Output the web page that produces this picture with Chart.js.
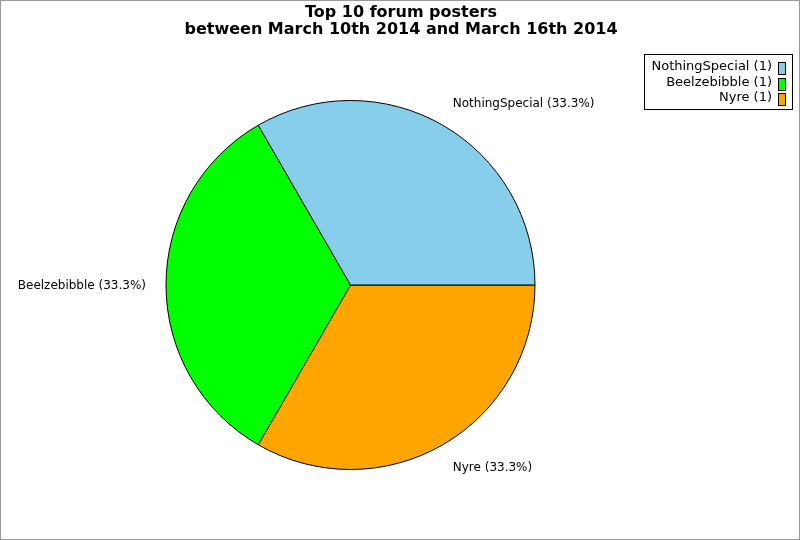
<!DOCTYPE html>
<html>
<head>
<meta charset="utf-8">
<script src="https://cdn.jsdelivr.net/npm/chart.js@4/dist/chart.umd.min.js"></script>
<style>
  html, body { margin: 0; padding: 0; background: #fff; }
  #wrap { width: 800px; height: 540px; }
</style>
</head>
<body>
<div id="wrap"><canvas id="chart" width="800" height="540"></canvas></div>
<script>
const titleLines = ['Top 10 forum posters', 'between March 10th 2014 and March 16th 2014'];
const posters = ['NothingSpecial', 'Beelzebibble', 'Nyre'];
const posts = [1, 1, 1];
const colours = ['#87CEEB', '#00FF00', '#FFA500'];

const total = posts.reduce((a, b) => a + b, 0);

// pie goes clockwise in chart.js, the picture goes the other way -> reverse
const pieLabels = posters.slice().reverse();
const pieData = posts.slice().reverse();
const pieColours = colours.slice().reverse();

const frame = {
  id: 'frame',
  beforeDraw(chart) {
    const ctx = chart.ctx;
    ctx.save();
    ctx.fillStyle = '#fff';
    ctx.fillRect(0, 0, chart.width, chart.height);
    ctx.strokeStyle = '#999';
    ctx.lineWidth = 1;
    ctx.strokeRect(0.5, 0.5, chart.width - 1, chart.height - 1);
    // title
    ctx.fillStyle = '#000';
    ctx.font = 'bold 16px "DejaVu Sans"';
    ctx.textAlign = 'center';
    ctx.textBaseline = 'middle';
    titleLines.forEach((t, i) => ctx.fillText(t, 401, 13 + i * 17));
    ctx.restore();
  }
};

const sliceLabels = {
  id: 'sliceLabels',
  afterDatasetsDraw(chart) {
    const ctx = chart.ctx;
    const arcs = chart.getDatasetMeta(0).data;
    ctx.save();
    ctx.font = '12px "DejaVu Sans"';
    ctx.fillStyle = '#000';
    ctx.textBaseline = 'middle';
    arcs.forEach((arc, i) => {
      const p = arc.getProps(['x', 'y', 'startAngle', 'endAngle', 'outerRadius'], true);
      const a = (p.startAngle + p.endAngle) / 2;
      const x = p.x + Math.cos(a) * (p.outerRadius + 22);
      const y = p.y + Math.sin(a) * (p.outerRadius + 25.5) + 1;
      const pct = (pieData[i] / total * 100).toFixed(1);
      const txt = pieLabels[i] + ' (' + pct + '%)';
      if (Math.cos(a) >= 0) {
        ctx.textAlign = 'left';
        ctx.fillText(txt, x - 1, y);
      } else {
        ctx.textAlign = 'right';
        ctx.fillText(txt, x + 2, y);
      }
    });
    ctx.restore();
  }
};

const boxLegend = {
  id: 'boxLegend',
  afterDraw(chart) {
    const ctx = chart.ctx;
    ctx.save();
    ctx.strokeStyle = '#000';
    ctx.lineWidth = 1;
    ctx.strokeRect(644.5, 54.5, 148, 55);
    ctx.font = '13px "DejaVu Sans"';
    ctx.textAlign = 'right';
    ctx.textBaseline = 'middle';
    posters.forEach((name, i) => {
      const cy = 67 + i * 15.5;
      ctx.fillStyle = '#000';
      ctx.fillText(name + ' (' + posts[i] + ')', 772, cy);
      const by = Math.round(cy - 5) + 0.5;
      ctx.fillStyle = colours[i];
      ctx.fillRect(778.5, by, 7, 12);
      ctx.strokeRect(778.5, by, 7, 12);
    });
    ctx.restore();
  }
};

new Chart(document.getElementById('chart'), {
  type: 'pie',
  data: {
    labels: pieLabels,
    datasets: [{
      data: pieData,
      backgroundColor: pieColours,
      borderColor: '#000',
      borderWidth: 1,
      hoverOffset: 0,
      offset: 0
    }]
  },
  options: {
    responsive: false,
    animation: false,
    rotation: 90,
    layout: { padding: { left: 165, right: 264, top: 100, bottom: 70 } },
    events: [],
    plugins: {
      legend: { display: false },
      tooltip: { enabled: false },
      title: { display: false }
    }
  },
  plugins: [frame, sliceLabels, boxLegend]
});
</script>
</body>
</html>
